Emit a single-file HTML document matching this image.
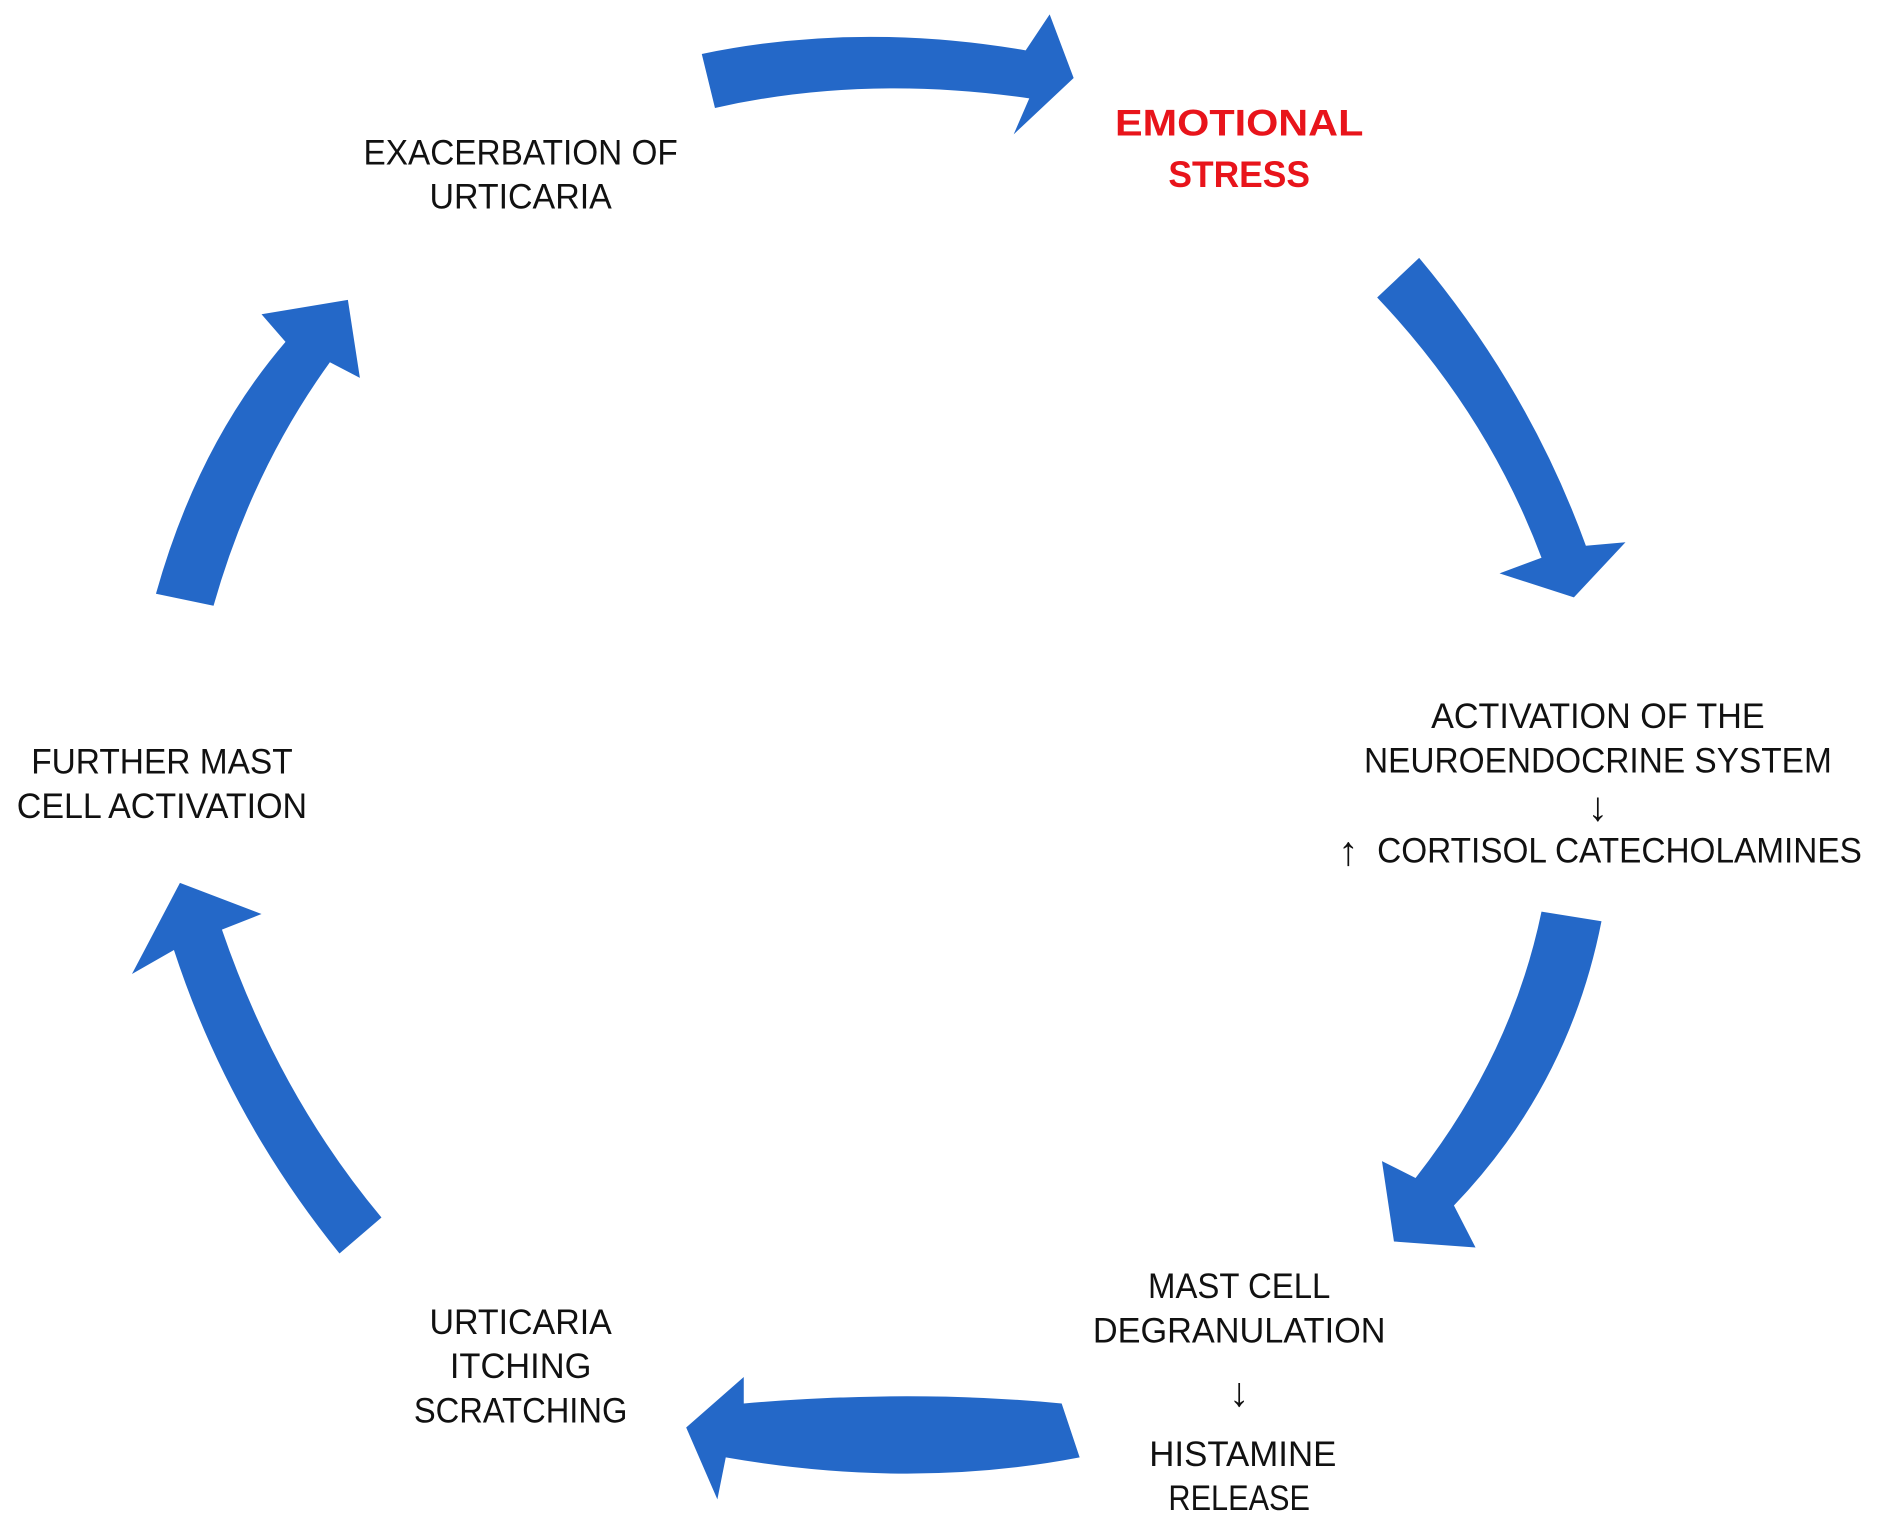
<!DOCTYPE html>
<html><head><meta charset="utf-8"><style>
html,body{margin:0;padding:0;background:#fff;}
svg{display:block;}
text{font-family:"Liberation Sans",sans-serif;font-size:29px;fill:#111;text-anchor:middle;}
.ar{font-size:34px;}
</style></head><body>
<svg width="1881" height="1533" viewBox="0 0 1568 1278" preserveAspectRatio="none" xmlns="http://www.w3.org/2000/svg">
<g fill="#2468c8">
<path d="M585,45 Q715,18 855,42 L875,12 L895,65 L845,112 L858,82 Q720,62 596,90 Z"/>
<path d="M1183,215 Q1275,325 1322,455 L1355,452 L1312,498 L1250,478 L1285,465 Q1240,345 1148,248 Z"/>
<path d="M1335,768 Q1308,905 1212,1005 L1230,1040 L1162,1035 L1152,968 L1180,982 Q1260,880 1285,760 Z"/>
<path d="M885,1170 Q760,1158 620,1170 L620,1148 L572,1190 L598,1250 L605,1215 Q760,1242 900,1215 Z"/>
<path d="M318,1015 Q232,912 185,775 L218,762 L150,736 L110,812 L145,792 Q190,930 283,1045 Z"/>
<path d="M130,495 Q165,370 238,285 L218,262 L290,250 L300,315 L275,302 Q210,392 178,505 Z"/>
</g>
<text x="434" y="137" textLength="262" lengthAdjust="spacingAndGlyphs">EXACERBATION OF</text>
<text x="434" y="174" textLength="152" lengthAdjust="spacingAndGlyphs">URTICARIA</text>
<text x="1033" y="113" textLength="207" lengthAdjust="spacingAndGlyphs" style="fill:#e8141b;font-weight:bold;font-size:31px">EMOTIONAL</text>
<text x="1033" y="156" textLength="118" lengthAdjust="spacingAndGlyphs" style="fill:#e8141b;font-weight:bold;font-size:31px">STRESS</text>
<text x="1332" y="607" textLength="278" lengthAdjust="spacingAndGlyphs">ACTIVATION OF THE</text>
<text x="1332" y="644" textLength="390" lengthAdjust="spacingAndGlyphs">NEUROENDOCRINE SYSTEM</text>
<text class="ar" x="1332" y="684">↓</text>
<text class="ar" x="1124" y="721">↑</text>
<text x="1350" y="719" textLength="404" lengthAdjust="spacingAndGlyphs">CORTISOL CATECHOLAMINES</text>
<text x="135" y="645" textLength="218" lengthAdjust="spacingAndGlyphs">FURTHER MAST</text>
<text x="135" y="682" textLength="242" lengthAdjust="spacingAndGlyphs">CELL ACTIVATION</text>
<text x="1033" y="1082" textLength="152" lengthAdjust="spacingAndGlyphs">MAST CELL</text>
<text x="1033" y="1119" textLength="244" lengthAdjust="spacingAndGlyphs">DEGRANULATION</text>
<text class="ar" x="1033" y="1172">↓</text>
<text x="1036" y="1222" textLength="156" lengthAdjust="spacingAndGlyphs">HISTAMINE</text>
<text x="1033" y="1259" textLength="118" lengthAdjust="spacingAndGlyphs">RELEASE</text>
<text x="434" y="1112" textLength="152" lengthAdjust="spacingAndGlyphs">URTICARIA</text>
<text x="434" y="1149" textLength="118" lengthAdjust="spacingAndGlyphs">ITCHING</text>
<text x="434" y="1186" textLength="178" lengthAdjust="spacingAndGlyphs">SCRATCHING</text>
</svg>
</body></html>
